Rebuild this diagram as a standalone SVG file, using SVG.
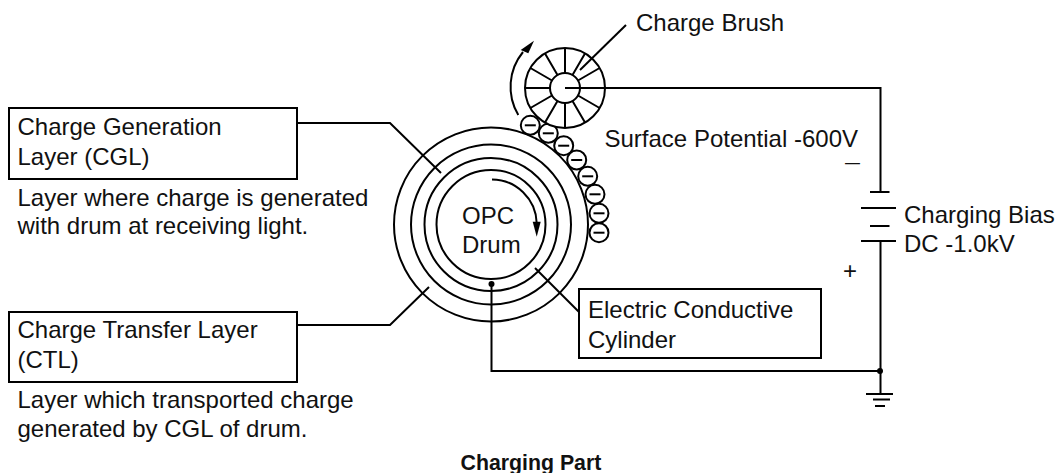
<svg xmlns="http://www.w3.org/2000/svg" width="1058" height="473" viewBox="0 0 1058 473">
<defs>
<style>
.l{fill:none;stroke:#000;stroke-width:2}
.t{font-family:"Liberation Sans",Arial,sans-serif;font-size:24px;fill:#111}
.c{fill:#fff;stroke:#000;stroke-width:2}
</style>
<g id="minus"><circle class="c" r="9.5"/><path d="M-5.5 0H5.5" class="l"/></g>
</defs>
<rect width="1058" height="473" fill="#fff"/>
<g id="drum">
<circle class="l" cx="491" cy="224.500" r="97"/>
<circle class="l" cx="491" cy="224.500" r="80"/>
<circle class="l" cx="491" cy="224.500" r="66.500"/>
<circle class="l" cx="491" cy="224.500" r="54.500"/>
<path class="l" d="M492 179.500A45 45 0 0 1 536.700 223"/>
<path d="M532.700 221.700L540.700 221.700L536.700 236.700Z"/>
<text class="t" x="462" y="223.500">OPC</text>
<text class="t" x="462" y="253">Drum</text>
</g>
<g id="charges">
<use href="#minus" x="530.300" y="125.300"/>
<use href="#minus" x="548.300" y="133.300"/>
<use href="#minus" x="563.700" y="145.700"/>
<use href="#minus" x="576.700" y="160"/>
<use href="#minus" x="587.700" y="176.300"/>
<use href="#minus" x="595" y="194.300"/>
<use href="#minus" x="599" y="213.300"/>
<use href="#minus" x="599" y="232.700"/>
</g>
<g id="brush">
<circle class="c" cx="565" cy="88" r="40"/>
<path class="l" d="M565 48V73M565 103V128M525 88H550M545 53.400L557.500 75M572.500 101L585 122.600M530.400 68L552 80.500M578 95.500L599.600 108M530.400 108L552 95.500M578 80.500L599.600 68M545 122.600L557.500 101M572.500 75L585 53.400"/>
<circle class="l" cx="565" cy="88" r="15"/>
<path class="l" d="M518.300 115A55 55 0 0 1 523 52"/>
<path d="M534 40.700L528.300 53.300L520.700 50Z"/>
</g>
<g id="cgl-label">
<rect class="l" x="9" y="108" width="288" height="71"/>
<text class="t" x="17.500" y="135">Charge Generation</text>
<text class="t" x="17.500" y="165">Layer (CGL)</text>
<text class="t" x="17.500" y="205.500">Layer where charge is generated</text>
<text class="t" x="17.500" y="233.500">with drum at receiving light.</text>
</g>
<g id="ctl-label">
<rect class="l" x="9" y="312" width="288" height="70"/>
<text class="t" x="17.500" y="338">Charge Transfer Layer</text>
<text class="t" x="17.500" y="368">(CTL)</text>
<text class="t" x="17.500" y="408">Layer which transported charge</text>
<text class="t" x="17.500" y="437">generated by CGL of drum.</text>
</g>
<g id="ecc-label">
<rect class="l" x="579" y="289" width="242" height="69"/>
<text class="t" x="588" y="318">Electric Conductive</text>
<text class="t" x="588" y="348">Cylinder</text>
</g>
<g id="connectors">
<path class="l" d="M297 123H390L441 173"/>
<path class="l" d="M297 325H390L429 287"/>
<path class="l" d="M535 268L579 312"/>
<path class="l" d="M565 88H880.500V192"/>
<path class="l" d="M491.500 284V371H880.500V241"/>
<path class="l" d="M880.500 371V394"/>
<path class="l" d="M870 192H889.500M861 208H896M870 226H889.500M861 241H896M866 394H893M873 399.500H890M875 406H885"/>
<path class="l" d="M580 70L626 25"/>
<circle cx="491.500" cy="284" r="3"/>
<circle cx="880" cy="371" r="3"/>
</g>
<g id="annotations">
<text class="t" x="636" y="31">Charge Brush</text>
<text class="t" x="604.500" y="146.500">Surface Potential -600V</text>
<text class="t" x="845" y="168" style="font-size:16px" textLength="15" lengthAdjust="spacingAndGlyphs">–</text>
<text class="t" x="904" y="223">Charging Bias</text>
<text class="t" x="904" y="252">DC -1.0kV</text>
<text class="t" x="843" y="279">+</text>
<text x="460.500" y="470" style="font-family:'Liberation Sans',Arial,sans-serif;font-size:21.300px;font-weight:bold;fill:#111">Charging Part</text>
</g>
</svg>
